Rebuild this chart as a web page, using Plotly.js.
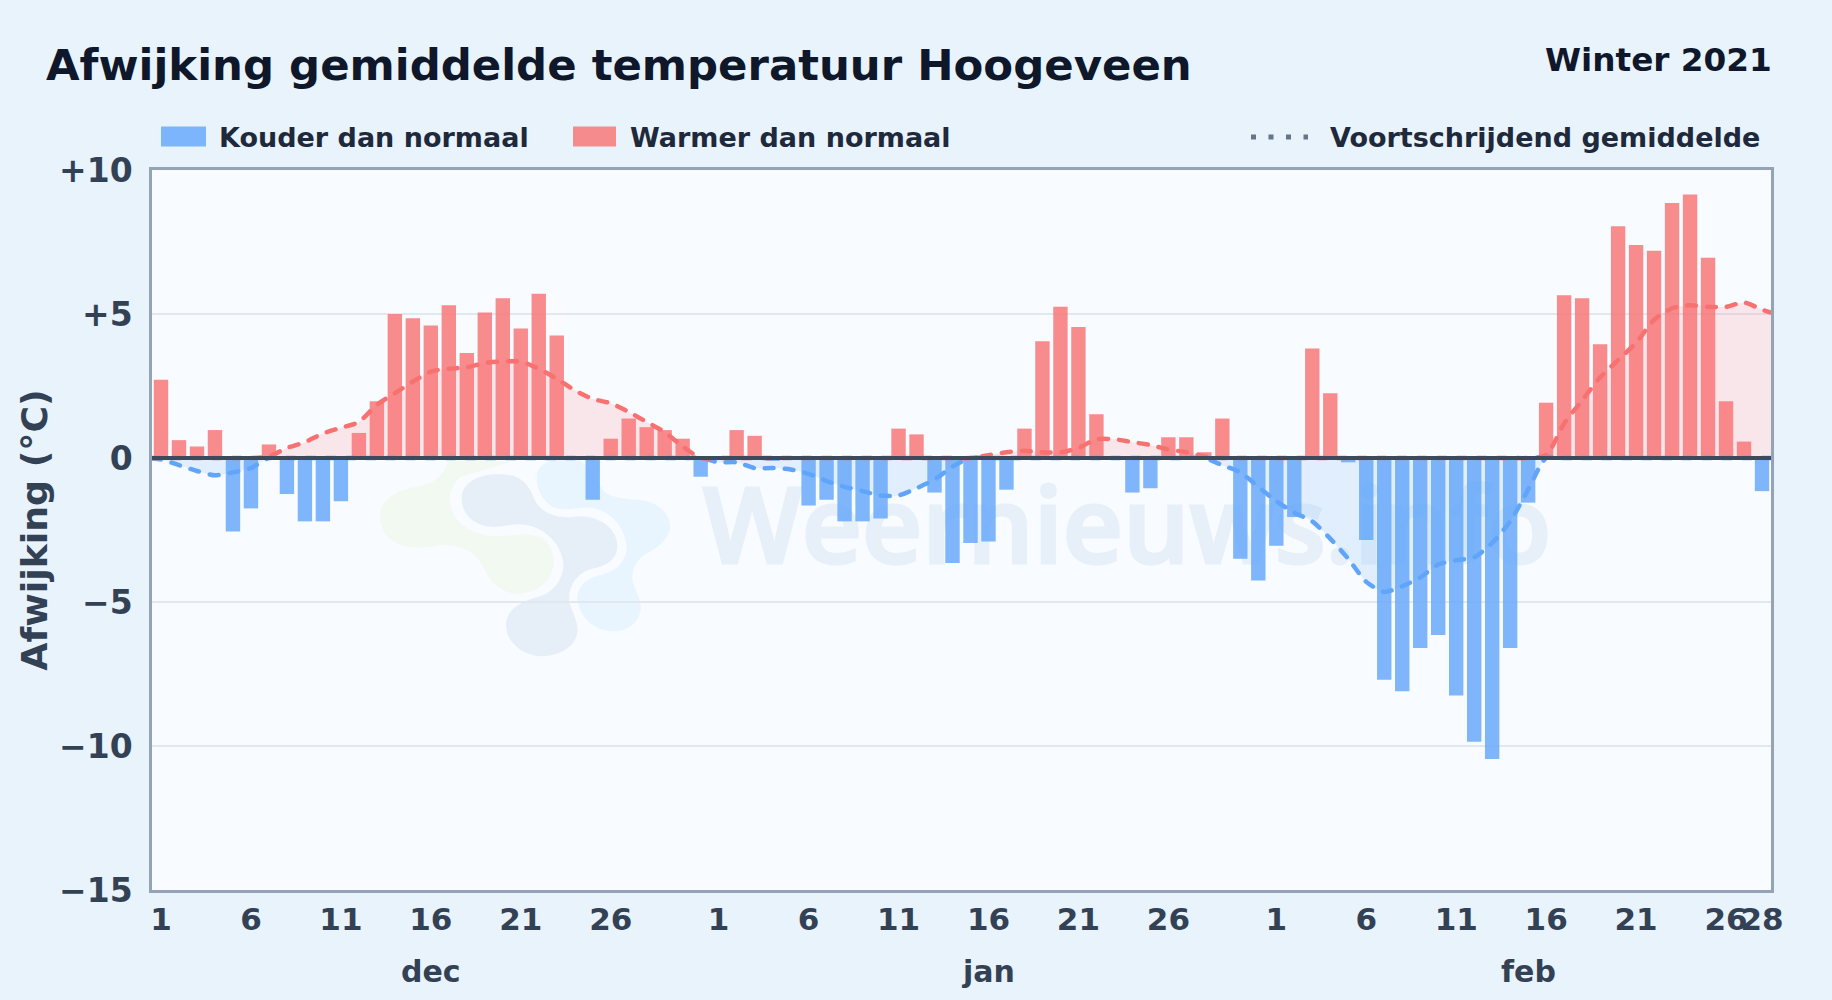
<!DOCTYPE html>
<html lang="nl">
<head>
<meta charset="utf-8">
<title>Afwijking gemiddelde temperatuur Hoogeveen</title>
<script src="https://cdn.plot.ly/plotly-3.0.1.min.js"></script>
<style>
html,body{margin:0;padding:0;background:#e8f3fc;}
#chart{width:1832px;height:1000px;}
.scatterlayer .js-line{stroke-linecap:round;}
.layer-below text{stroke:#e7f0f9;stroke-width:3px;}
</style>
</head>
<body>
<div id="chart"></div>
<script>
// Daily deviation from normal, 1 Dec - 28 Feb (deg C)
const decDeviation = [2.72,0.62,0.4,0.97,-2.55,-1.75,0.47,-1.25,-2.2,-2.2,-1.5,0.87,1.97,5.0,4.85,4.6,5.3,3.65,5.05,5.55,4.5,5.7,4.25,0,-1.45,0.67,1.37,1.07,0.97,0.67,-0.65];
const janDeviation = [0,0.97,0.77,-0.1,0,-1.65,-1.45,-2.2,-2.2,-2.1,1.02,0.82,-1.2,-3.65,-2.95,-2.9,-1.1,1.02,4.05,5.25,4.55,1.52,0.05,-1.2,-1.05,0.72,0.72,0.2,1.37,-3.5,-4.25];
const febDeviation = [-3.05,-2.05,3.8,2.25,-0.15,-2.85,-7.7,-8.1,-6.6,-6.15,-8.25,-9.85,-10.45,-6.6,-1.55,1.92,5.65,5.55,3.95,8.05,7.4,7.2,8.85,9.15,6.95,1.97,0.57,-1.15];

// Moving average (runs to both plot edges)
const averageAtStart = -0.02;
const decAverage = [-0.05,-0.25,-0.45,-0.6,-0.5,-0.35,0.05,0.35,0.55,0.85,1.05,1.25,1.85,2.25,2.65,3.0,3.1,3.15,3.3,3.35,3.35,3.1,2.75,2.35,2.05,1.9,1.6,1.25,0.9,0.4,0.0];
const janAverage = [-0.15,-0.15,-0.35,-0.35,-0.4,-0.55,-0.8,-1.0,-1.15,-1.3,-1.3,-1.05,-0.75,-0.3,0.0,0.1,0.2,0.25,0.2,0.2,0.35,0.65,0.65,0.55,0.45,0.3,0.2,0.05,-0.25,-0.5,-1.0];
const febAverage = [-1.5,-1.9,-2.2,-2.8,-3.5,-4.3,-4.65,-4.45,-4.15,-3.7,-3.55,-3.45,-2.95,-2.2,-1.1,0.1,1.2,2.0,2.8,3.4,4.0,4.8,5.2,5.3,5.25,5.25,5.4,5.15];
const averageAtEnd = 5.05;

const dayTickPositions = [0,5,10,15,20,25,31,36,41,46,51,56,62,67,72,77,82,87,89];
const dayTickLabels = ['1','6','11','16','21','26','1','6','11','16','21','26','1','6','11','16','21','26','28'];
const valueTicks = [10,5,0,-5,-10,-15];
const valueTickLabels = ['+10','+5','0','\u22125','\u221210','\u221215'];
const monthLabels = ['dec','jan','feb'];
const monthCenters = [15,46,76];
const seriesNames = ['Kouder dan normaal','Warmer dan normaal','Voortschrijdend gemiddelde'];

const deviation = decDeviation.concat(janDeviation, febDeviation);
const average = [averageAtStart].concat(decAverage, janAverage, febAverage, [averageAtEnd]);
const days = deviation.map((_, i) => i);
const averageDays = [-0.5].concat(days, [89.5]);

// page geometry
const L = 152, R = 1771, T = 169.5, B = 890;
const px = x => (x - L) / (R - L);
const py = y => 1 - (y - T) / (B - T);

// watermark logo: paths measured in a 3x crop with origin (360,450)
function logoPath(d){
  return d.replace(/(-?\d+(\.\d+)?),(-?\d+(\.\d+)?)/g, (m, a, _a, b) =>
    px(360 + a / 3).toFixed(5) + ',' + py(450 + b / 3).toFixed(5));
}
const logoShape = (d, color) => ({type:'path', layer:'below', xref:'paper', yref:'paper', path:logoPath(d), fillcolor:color, line:{width:0}});
const green = 'M 60,200 C 58,150 110,118 170,110 C 225,100 250,75 265,32 C 340,28 420,30 450,35 L 300,80 C 280,100 268,125 270,150 C 275,220 340,255 400,258 C 440,260 480,248 520,255 C 570,265 585,310 580,345 C 575,400 520,432 465,430 C 420,425 390,395 370,350 C 345,300 290,280 240,285 C 190,295 160,295 125,285 C 85,270 60,240 60,200 Z';
const dark = 'M 305,145 C 305,95 360,70 420,72 C 480,72 505,100 520,140 C 540,190 590,205 640,200 C 700,190 770,225 772,285 C 772,330 740,345 700,355 C 650,365 625,410 628,450 C 632,480 655,510 652,545 C 648,590 600,618 545,618 C 490,618 438,575 438,525 C 438,480 480,455 535,440 C 585,425 612,380 610,340 C 605,280 550,225 480,222 C 450,222 430,230 400,230 C 340,228 305,190 305,145 Z';
const light = 'M 530,80 C 530,50 560,30 590,30 L 660,30 C 700,60 710,105 740,130 C 780,150 830,145 870,155 C 910,170 932,200 930,235 C 925,270 890,295 860,310 C 825,330 810,370 820,400 C 830,430 845,450 842,480 C 835,520 800,545 755,543 C 700,540 660,500 652,450 C 650,420 670,385 720,375 C 770,365 800,330 800,290 C 795,225 740,170 680,172 C 640,175 600,185 570,165 C 540,140 530,110 530,80 Z';

const BLUE = '#60a5fa', RED = '#f87171';
const data = [
  {type:'bar', name:seriesNames[0], x:days, y:deviation.map(v => v < 0 ? v : null), marker:{color:BLUE, opacity:0.8, line:{width:0}}, hoverinfo:'x+y'},
  {type:'bar', name:seriesNames[1], x:days, y:deviation.map(v => v >= 0 ? v : null), marker:{color:RED, opacity:0.8, line:{width:0}}, hoverinfo:'x+y'},
  {type:'scatter', mode:'lines', name:seriesNames[2]+' (koud)', x:averageDays, y:average.map(v => Math.min(v,0)), fill:'tozeroy', fillcolor:'rgba(96,165,250,0.15)', line:{color:BLUE, width:4.5, dash:'9px,11px', shape:'spline', smoothing:0.7}},
  {type:'scatter', mode:'lines', name:seriesNames[2]+' (warm)', x:averageDays, y:average.map(v => Math.max(v,0)), fill:'tozeroy', fillcolor:'rgba(248,113,113,0.15)', line:{color:RED, width:4.5, dash:'9px,11px', shape:'spline', smoothing:0.7}}
];

const FONT = '"DejaVu Sans", sans-serif';
const legendFont = {family:FONT, size:27, color:'#1e293b', weight:700};
const tickFont = {family:FONT, size:31, color:'#334155', weight:700};

const layout = {
  width:1832, height:1000, autosize:false,
  paper_bgcolor:'#e8f3fc', plot_bgcolor:'#f8fbff',
  margin:{l:L, r:1832-R, t:T, b:1000-B, pad:0},
  showlegend:false, barmode:'overlay', bargap:0.2,
  title:{text:'Afwijking gemiddelde temperatuur Hoogeveen', font:{family:FONT, size:43.4, color:'#0f172a', weight:700}, xref:'container', yref:'container', x:46/1832, xanchor:'left', y:1-65/1000, yanchor:'middle'},
  xaxis:{range:[-0.5,89.5], tickmode:'array', tickvals:dayTickPositions, ticktext:dayTickLabels, tickangle:0, tickfont:tickFont, showgrid:false, zeroline:false, showline:true, linecolor:'#94a3b8', linewidth:2.5, mirror:true, ticks:'', ticklen:0},
  yaxis:{range:[-15,10], tickmode:'array', tickvals:valueTicks, ticktext:valueTickLabels, tickfont:{family:FONT, size:33, color:'#334155', weight:700}, gridcolor:'#e2e8f0', gridwidth:2, zeroline:false, showline:true, linecolor:'#94a3b8', linewidth:2.5, mirror:true, ticks:'outside', ticklen:10, tickcolor:'rgba(0,0,0,0)',
    title:{text:'Afwijking (°C)', font:{family:FONT, size:36.3, color:'#334155', weight:700}, standoff:1}},
  shapes:[
    logoShape(green,'#f2f9f1'), logoShape(light,'#e9f5fe'), logoShape(dark,'#e6eff8'),
    {type:'rect', layer:'below', xref:'paper', yref:'paper', x0:px(700), x1:px(1600), y0:py(590), y1:py(470), line:{width:0}, fillcolor:'rgba(0,0,0,0)',
      label:{text:'Weernieuws.info', textposition:'middle left', padding:0, font:{family:'"Open Sans", sans-serif', size:104.5, color:'#e7f0f9', weight:600}}},
    {type:'line', layer:'above', xref:'paper', yref:'y', x0:0, x1:1, y0:0, y1:0, line:{color:'#3d4a5c', width:4}},
    {type:'rect', xref:'paper', yref:'paper', x0:px(161), x1:px(206), y0:py(126), y1:py(146), fillcolor:BLUE, opacity:0.8, line:{width:0}},
    {type:'rect', xref:'paper', yref:'paper', x0:px(573), x1:px(616), y0:py(126), y1:py(146), fillcolor:RED, opacity:0.8, line:{width:0}},
    {type:'line', xref:'paper', yref:'paper', x0:px(1251), x1:px(1308), y0:py(136.5), y1:py(136.5), line:{color:'#64748b', width:5, dash:'5px,12.5px'}}
  ],
  annotations:[
    {xref:'paper', yref:'paper', x:px(1774), y:py(59), xanchor:'right', yanchor:'middle', showarrow:false, text:'Winter 2021', font:{family:FONT, size:32.7, color:'#0f172a', weight:700}},
    {xref:'paper', yref:'paper', x:px(216.7), y:py(136.5), xanchor:'left', yanchor:'middle', showarrow:false, text:seriesNames[0], font:legendFont},
    {xref:'paper', yref:'paper', x:px(627.7), y:py(136.5), xanchor:'left', yanchor:'middle', showarrow:false, text:seriesNames[1], font:legendFont},
    {xref:'paper', yref:'paper', x:px(1762), y:py(136.5), xanchor:'right', yanchor:'middle', showarrow:false, text:seriesNames[2], font:legendFont}
  ].concat(monthLabels.map((m,i) => ({xref:'x', yref:'paper', x:monthCenters[i], y:py(972), xanchor:'center', yanchor:'middle', showarrow:false, text:m, font:Object.assign({}, tickFont, {size:30})})))
};
Plotly.newPlot('chart', data, layout, {displayModeBar:false, responsive:false});
</script>
</body>
</html>
